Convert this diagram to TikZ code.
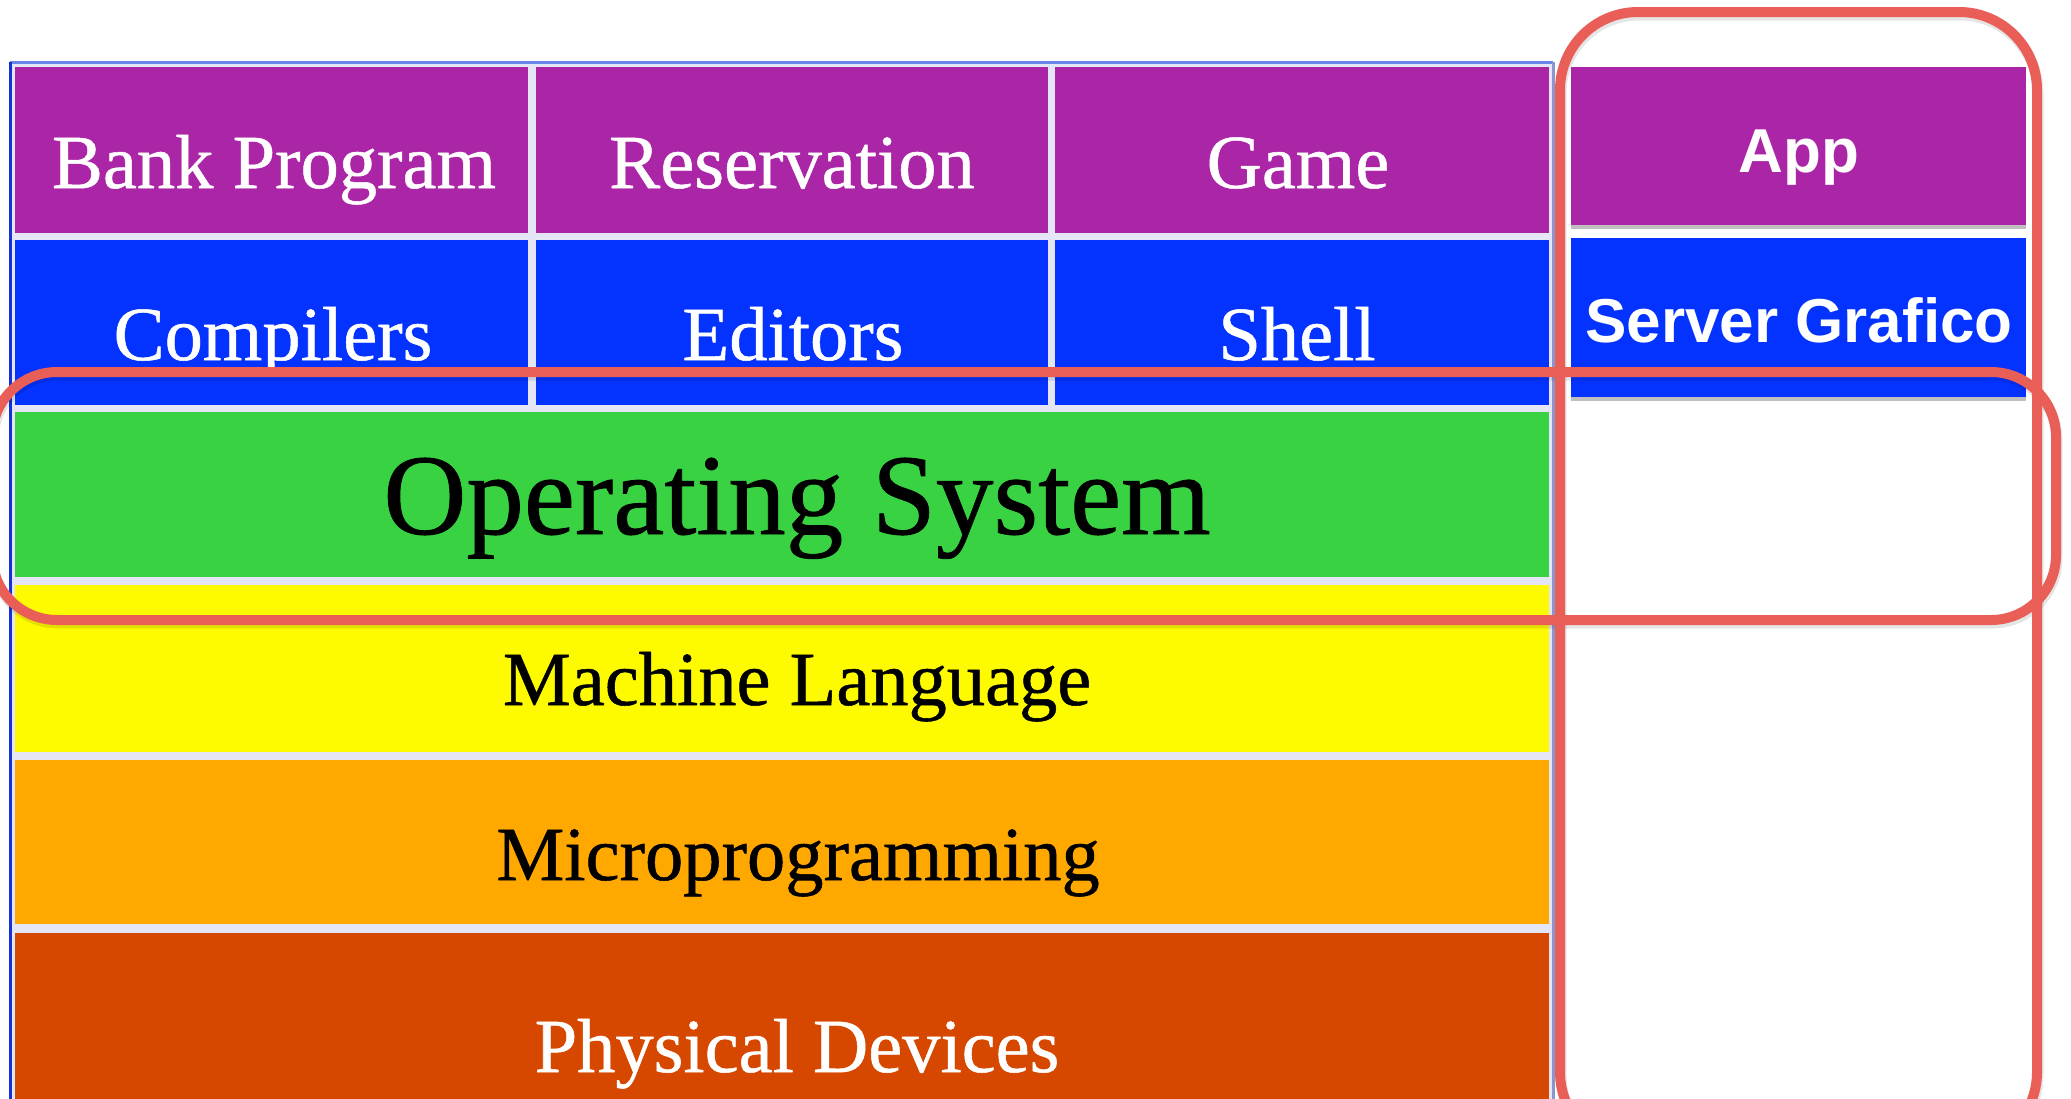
\documentclass[tikz,border=0pt]{standalone}
\usepackage{fontspec}
\setmainfont{Liberation Serif}
\newfontfamily\thickserif{Liberation Serif}[FakeBold=0.7]
\newfontfamily\appfont{Liberation Sans}
\usetikzlibrary{shadows}
\definecolor{cpurple}{RGB}{171,38,166}
\definecolor{cblue}{RGB}{4,50,255}
\definecolor{cgreen}{RGB}{57,210,66}
\definecolor{cyellow}{RGB}{254,250,0}
\definecolor{corange}{RGB}{255,168,0}
\definecolor{crust}{RGB}{214,72,0}
\definecolor{cred}{RGB}{234,94,88}
\definecolor{cgap}{RGB}{228,229,245}
\definecolor{cframe}{RGB}{20,50,215}
\definecolor{cframetop}{RGB}{105,135,232}
\definecolor{cframeright}{RGB}{140,150,205}
\begin{document}
\begin{tikzpicture}[x=1pt,y=-1pt,
  cell/.style={rectangle, inner sep=0pt, outer sep=0pt, anchor=north west},
  lbl/.style={anchor=base, inner sep=0pt, font=\thickserif\fontsize{76.5}{80}\selectfont},
  biglbl/.style={anchor=base, inner sep=0pt, font=\thickserif\fontsize{115}{120}\selectfont},
  applbl/.style={anchor=base, inner sep=0pt, text=white, font=\appfont\bfseries\fontsize{62}{66}\selectfont},
  boxshadow/.style={drop shadow={shadow xshift=0pt, shadow yshift=-4pt, opacity=0.25, fill=black}},
  redbox/.style={cred, line width=10pt},
  redshadow/.style={black, opacity=0.1, line width=11pt}
]
\useasboundingbox (0,0) rectangle (2071,1098);
\clip (0,0) rectangle (2071,1098);
\fill[white] (0,0) rectangle (2071,1098);

% table frame
\fill[cgap] (10,62) rectangle (1553,1110);
\draw[cframetop, line width=3pt] (10,62) -- (1553,62);
\draw[cframe, line width=3pt] (10,62) -- (10,1110);
\draw[cframeright, line width=3pt] (1553,62) -- (1553,1110);

% row 1
\node[cell, fill=cpurple, minimum width=513pt, minimum height=166pt] (bank) at (15,67) {};
\node[cell, fill=cpurple, minimum width=512pt, minimum height=166pt] (res) at (536,67) {};
\node[cell, fill=cpurple, minimum width=494pt, minimum height=166pt] (game) at (1055,67) {};
% row 2
\node[cell, fill=cblue, minimum width=513pt, minimum height=165pt] (comp) at (15,240) {};
\node[cell, fill=cblue, minimum width=512pt, minimum height=165pt] (edit) at (536,240) {};
\node[cell, fill=cblue, minimum width=494pt, minimum height=165pt] (shell) at (1055,240) {};
% full rows
\node[cell, fill=cgreen, minimum width=1534pt, minimum height=165pt] (os) at (15,412) {};
\node[cell, fill=cyellow, minimum width=1534pt, minimum height=167pt] (ml) at (15,585) {};
\node[cell, fill=corange, minimum width=1534pt, minimum height=164pt] (mp) at (15,760) {};
\node[cell, fill=crust, minimum width=1534pt, minimum height=177pt] (pd) at (15,933) {};

% labels
\node[lbl, text=white] (tbank) at (274,188) {Bank Program};
\node[lbl, text=white] (tres) at (792,188) {Reservation};
\node[lbl, text=white] (tgame) at (1298,188) {Game};
\node[lbl, text=white] (tcomp) at (273,360) {Compilers};
\node[lbl, text=white] (tedit) at (793,360) {Editors};
\node[lbl, text=white] (tshell) at (1297,360) {Shell};
\node[biglbl, text=black] (tos) at (797,534) {Operating System};
\node[lbl, text=black] (tml) at (797,705) {Machine Language};
\node[lbl, text=black] (tmp) at (798,880) {Microprogramming};
\node[lbl, text=white] (tpd) at (797,1072) {Physical Devices};

% right column
\node[cell, fill=cpurple, minimum width=455pt, minimum height=158pt, boxshadow] (app) at (1571,67) {};
\node[cell, fill=cblue, minimum width=455pt, minimum height=159pt, boxshadow] (srv) at (1571,238) {};
\node[applbl] (tapp) at (1799,172) {App};
\node[applbl] (tsrv) at (1799,342) {Server Grafico};

% red rounded outlines
\draw[redshadow, rounded corners=78pt] ([xshift=1pt,yshift=-3pt]1560,12) rectangle ([xshift=1pt,yshift=-3pt]2037,1150);
\draw[redshadow, rounded corners=65pt] ([xshift=1pt,yshift=-3pt]-8,372) rectangle ([xshift=1pt,yshift=-3pt]2056,620);
\draw[redbox, rounded corners=78pt] (1560,12) rectangle (2037,1150);
\draw[redbox, rounded corners=65pt] (-8,372) rectangle (2056,620);
\end{tikzpicture}
\end{document}
